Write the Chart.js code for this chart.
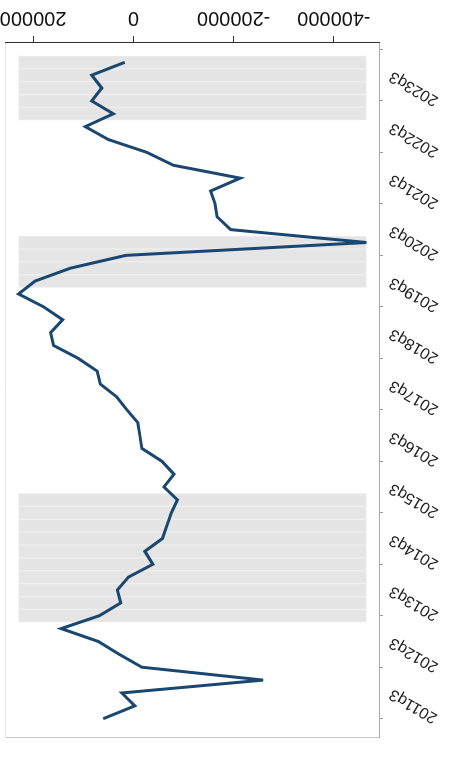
<!DOCTYPE html>
<html>
<head>
<meta charset="utf-8">
<script src="https://cdn.jsdelivr.net/npm/chart.js@4.4.1/dist/chart.umd.min.js"></script>
<style>
  html, body { margin: 0; padding: 0; background: #fff; overflow: hidden; }
  /* the chart is drawn upright and then turned a quarter turn to the left */
  #wrap { position: absolute; left: 0; top: 0; width: 764px; height: 450px;
          transform-origin: 0 0; transform: translateY(764px) rotate(-90deg); }
</style>
</head>
<body>
<div id="wrap"><canvas id="chart" width="764" height="450"></canvas></div>
<script>
// Data
const quarters = [
  '2011q1', '2011q2', '2011q3', '2011q4', '2012q1', '2012q2', '2012q3', '2012q4',
  '2013q1', '2013q2', '2013q3', '2013q4', '2014q1', '2014q2', '2014q3', '2014q4',
  '2015q1', '2015q2', '2015q3', '2015q4', '2016q1', '2016q2', '2016q3', '2016q4',
  '2017q1', '2017q2', '2017q3', '2017q4', '2018q1', '2018q2', '2018q3', '2018q4',
  '2019q1', '2019q2', '2019q3', '2019q4', '2020q1', '2020q2', '2020q3', '2020q4',
  '2021q1', '2021q2', '2021q3', '2021q4', '2022q1', '2022q2', '2022q3', '2022q4',
  '2023q1', '2023q2', '2023q3', '2023q4'
];
const values = [
  60000, -3000, 23000, -259000, -17000, 28000, 70000, 144000,
  68000, 25000, 32000, 10000, -39000, -23000, -58000, -67000,
  -76000, -88000, -61000, -81000, -57000, -17000, -13000, -9000,
  13000, 33000, 66000, 72000, 110000, 159000, 165000, 141000,
  179000, 229000, 196000, 126000, 15000, -465000, -194000, -167000,
  -163000, -154000, -213000, -80000, -27000, 50000, 96000, 40000,
  83000, 63000, 83000, 17000
];
const tickQuarters = ['2011q3', '2012q3', '2013q3', '2014q3', '2015q3', '2016q3', '2017q3',
  '2018q3', '2019q3', '2020q3', '2021q3', '2022q3', '2023q3'];
const shadedQuarters = [
  '2013q1', '2013q2', '2013q3', '2013q4', '2014q1', '2014q2', '2014q3', '2014q4', '2015q1', '2015q2',
  '2019q3', '2019q4', '2020q1', '2020q2',
  '2022q4', '2023q1', '2023q2', '2023q3', '2023q4'
];
const valueTicks = [-400000, -200000, 0, 200000];

const font = 'Liberation Sans, Arial, sans-serif';
const pos = q => quarters.indexOf(q);
const lo = Math.min(...values), hi = Math.max(...values);

const lineData = values.map((v, i) => ({ x: i, y: v }));
const bandData = shadedQuarters.map(q => ({ x: pos(q), y: [lo, hi] }));

// light box around the plot region (the two sides the axes don't cover)
const frame = {
  id: 'frame',
  beforeDatasetsDraw(chart) {
    const { ctx, chartArea: a } = chart;
    ctx.save();
    ctx.lineWidth = 1;
    ctx.strokeStyle = '#c4c4c4';
    ctx.beginPath();
    ctx.moveTo(a.left + 0.5, a.top);
    ctx.lineTo(a.left + 0.5, a.bottom);
    ctx.stroke();
    ctx.strokeStyle = '#e6e6e6';
    ctx.beginPath();
    ctx.moveTo(a.left, a.top + 0.5);
    ctx.lineTo(a.right, a.top + 0.5);
    ctx.stroke();
    ctx.restore();
  }
};

new Chart(document.getElementById('chart').getContext('2d'), {
  type: 'line',
  data: {
    datasets: [
      {
        type: 'bar',
        data: bandData,
        backgroundColor: '#e5e5e5',
        borderColor: '#eeeeee',
        borderWidth: 1,
        borderSkipped: false,
        barPercentage: 1,
        categoryPercentage: 1,
        grouped: false,
        order: 2
      },
      {
        type: 'line',
        data: lineData,
        borderColor: '#1a476f',
        borderWidth: 3,
        pointRadius: 0,
        tension: 0,
        order: 1
      }
    ]
  },
  options: {
    responsive: false,
    animation: false,
    devicePixelRatio: 1,
    layout: { padding: { left: 26, top: 5, right: 0, bottom: 0 } },
    plugins: { legend: { display: false }, tooltip: { enabled: false } },
    scales: {
      x: {
        type: 'linear',
        min: -1.5,
        max: 52.5,
        offset: false,
        afterBuildTicks: s => { s.ticks = tickQuarters.map(q => ({ value: pos(q) })); },
        afterFit: s => { s.height = 71; },
        grid: { drawOnChartArea: false, drawTicks: true, tickLength: 4, tickColor: '#999' },
        border: { color: '#aaa' },
        ticks: {
          autoSkip: false, minRotation: 60, maxRotation: 60, padding: 3,
          font: { family: font, size: 16 }, color: '#222',
          callback: v => quarters[v]
        }
      },
      y: {
        position: 'right',
        min: -490000,
        max: 256000,
        afterBuildTicks: s => { s.ticks = valueTicks.map(v => ({ value: v })); },
        afterFit: s => { s.width = 43; },
        grid: { drawOnChartArea: false, drawTicks: true, tickLength: 7, tickColor: '#333' },
        border: { color: '#333' },
        ticks: {
          minRotation: 90, maxRotation: 90, crossAlign: 'center', padding: -18,
          font: { family: font, size: 20 }, color: '#111',
          callback: v => String(v)
        }
      }
    }
  },
  plugins: [frame]
});
</script>
</body>
</html>
